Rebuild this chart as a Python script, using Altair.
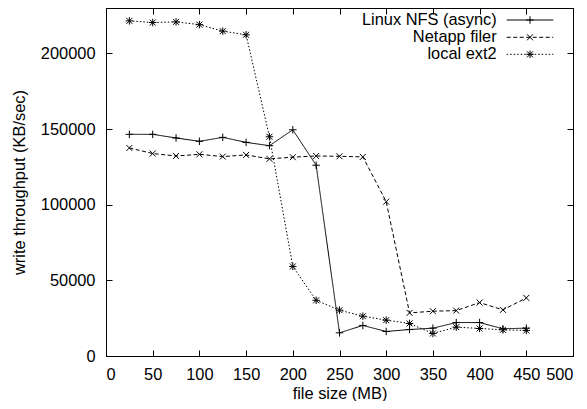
import altair as alt
import pandas as pd

# ---- data ----
sizes = [25, 50, 75, 100, 125, 150, 175, 200, 225, 250, 275, 300, 325, 350, 375, 400, 425, 450]
nfs = [146500, 146500, 144100, 141900, 144500, 141200, 139000, 149500, 126100,
       15300, 20200, 16200, 17500, 18400, 22100, 22100, 18000, 18400]
netapp = [137500, 133800, 132200, 133300, 131800, 132900, 130300, 131400, 132200,
          132000, 131600, 102000, 28500, 29600, 30000, 35300, 30500, 38400]
ext2 = [221500, 220400, 220800, 219000, 214700, 212300, 144900, 59200, 36800,
        30300, 26300, 23700, 21500, 14900, 19100, 18200, 17300, 16900]
series = ["Linux NFS (async)", "Netapp filer", "local ext2"]
x_ticks = [0, 50, 100, 150, 200, 250, 300, 350, 400, 450, 500]
y_ticks = [0, 50000, 100000, 150000, 200000]
x_title = "file size (MB)"
y_title = "write throughput (KB/sec)"

# ---- styles ----
W, H = 467, 348
FONT = "Liberation Sans"
FS = 16.4
dashes = [[1, 0], [4, 2.5], [1.5, 2]]
plus = "M-1,0L1,0M0,-1L0,1"
cross = "M-0.8,-0.8L0.8,0.8M-0.8,0.8L0.8,-0.8"
star = plus + cross
shapes = [plus, cross, star]

df = pd.DataFrame({
    "size": sizes * 3,
    "value": nfs + netapp + ext2,
    "series": [s for s in series for _ in sizes],
})

xs = alt.Scale(domain=[0, 500], nice=False, zero=False)
ys = alt.Scale(domain=[0, 230000], nice=False)

base = alt.Chart(df)

lines = base.mark_line(color="black", strokeWidth=1).encode(
    x=alt.X("size:Q", scale=xs, axis=alt.Axis(
        orient="bottom", values=x_ticks, ticks=False, tickSize=0, domain=False,
        grid=False, labelPadding=10, format="d", title=x_title,
        titleX=W / 2, titleY=37, titleBaseline="middle", titleAlign="center")),
    y=alt.Y("value:Q", scale=ys, axis=alt.Axis(
        orient="left", values=y_ticks, ticks=False, tickSize=0, domain=False,
        grid=False, labelPadding=11, format="d", title=y_title,
        titleX=-87, titleY=H / 2, titleBaseline="middle", titleAlign="center")),
    strokeDash=alt.StrokeDash("series:N", scale=alt.Scale(domain=series, range=dashes), legend=None),
    detail="series:N",
)

points = base.mark_point(filled=False, color="black", strokeWidth=1, size=56, opacity=1).encode(
    x=alt.X("size:Q", scale=xs, axis=alt.Axis(
        orient="bottom", values=x_ticks, ticks=True, tickSize=6, labels=False,
        domain=False, grid=False, title=None, offset=-6)),
    y=alt.Y("value:Q", scale=ys, axis=alt.Axis(
        orient="left", values=y_ticks, ticks=True, tickSize=6, labels=False,
        domain=False, grid=False, title=None, offset=-6)),
    shape=alt.Shape("series:N", scale=alt.Scale(domain=series, range=shapes), legend=None),
)

mirror = base.mark_point(opacity=0).encode(
    x=alt.X("size:Q", scale=xs, axis=alt.Axis(
        orient="top", values=x_ticks, ticks=True, tickSize=6, labels=False,
        domain=False, grid=False, title=None, offset=-6)),
    y=alt.Y("value:Q", scale=ys, axis=alt.Axis(
        orient="right", values=y_ticks, ticks=True, tickSize=6, labels=False,
        domain=False, grid=False, title=None, offset=-6)),
)

# ---- manual legend (top right, inside the plot) ----
legend_layers = []
row_y = [12, 29.3, 46.3]
for i, name in enumerate(series):
    ldf = pd.DataFrame({"label": [name]})
    lb = alt.Chart(ldf)
    legend_layers.append(
        lb.mark_text(align="right", baseline="middle", font=FONT, fontSize=FS, color="black").encode(
            x=alt.value(390.7), y=alt.value(row_y[i]), text="label:N"))
    rule_kwargs = {} if i == 0 else {"strokeDash": dashes[i]}
    legend_layers.append(
        lb.mark_rule(color="black", strokeWidth=1, **rule_kwargs).encode(
            x=alt.value(400.7), x2=alt.value(447.3), y=alt.value(row_y[i])))
    legend_layers.append(
        lb.mark_point(filled=False, color="black", strokeWidth=1, size=56, opacity=1,
                      shape=shapes[i]).encode(
            x=alt.value(424), y=alt.value(row_y[i])))

chart = alt.layer(lines, points, mirror, *legend_layers).resolve_axis(
    x="independent", y="independent"
).properties(
    width=W, height=H,
    autosize=alt.AutoSizeParams(type="none"),
    padding={"left": 98, "top": 0, "right": 4, "bottom": 45},
).configure_view(
    stroke="black", strokeWidth=1
).configure_axis(
    labelFont=FONT, labelFontSize=FS, labelColor="black",
    titleFont=FONT, titleFontSize=FS, titleFontWeight="normal", titleColor="black",
    tickColor="black", tickWidth=1,
)

chart.save("out.html", embed_options={"renderer": "svg", "actions": False})
